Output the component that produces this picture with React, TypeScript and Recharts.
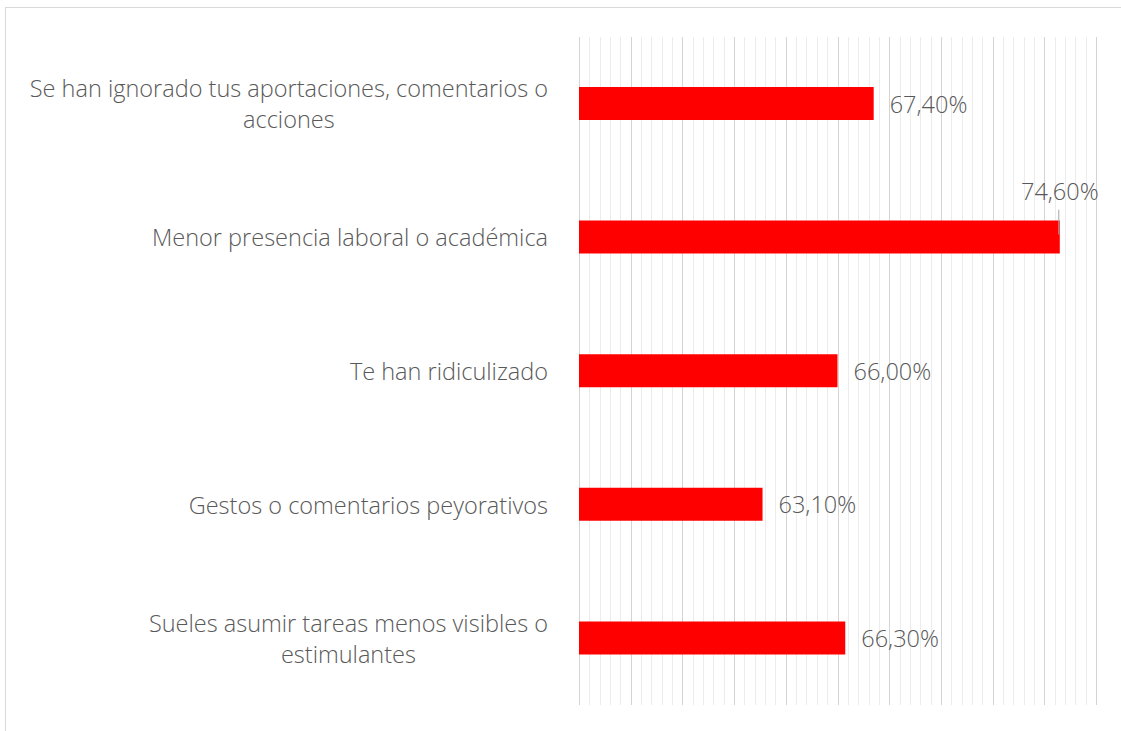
import { BarChart, Bar, XAxis, YAxis, CartesianGrid, LabelList } from 'recharts';

const categories = [
  'Se han ignorado tus aportaciones, comentarios o\nacciones',
  'Menor presencia laboral o académica',
  'Te han ridiculizado',
  'Gestos o comentarios peyorativos',
  'Sueles asumir tareas menos visibles o\nestimulantes',
];
const values = [67.4, 74.6, 66.0, 63.1, 66.3];
const majorTicks = [56, 58, 60, 62, 64, 66, 68, 70, 72, 74, 76];
const domain = [56, 76];

// 5 minor divisions between each major gridline
const minorTicks: number[] = [];
majorTicks.slice(0, -1).forEach((t, i) => {
  const step = (majorTicks[i + 1] - t) / 5;
  for (let k = 1; k < 5; k++) minorTicks.push(+(t + k * step).toFixed(2));
});

const data = categories.map((c, i) => ({ name: c, value: values[i] }));

const FONT = '"Open Sans", "Noto Sans", sans-serif';
const TEXT = '#595959';
const FS = 23.5;

let ctx: CanvasRenderingContext2D | null = null;
function measure(s: string) {
  if (!ctx) ctx = document.createElement('canvas').getContext('2d');
  if (!ctx) return s.length * FS * 0.5;
  ctx.font = `300 ${FS}px ${FONT}`;
  return ctx.measureText(s).width;
}

const CatTick = (props: any) => {
  const { x, y, payload } = props;
  const lines = String(payload.value).split('\n');
  const maxW = Math.max(...lines.map(measure));
  const lh = 31;
  const y0 = y - ((lines.length - 1) * lh) / 2;
  return (
    <text x={x - maxW / 2} y={y0} textAnchor="middle" fill={TEXT}
      fontSize={FS} fontFamily={FONT} fontWeight={300} dominantBaseline="central">
      {lines.map((l, i) => (
        <tspan key={i} x={x - maxW / 2} y={y0 + i * lh}>{l}</tspan>
      ))}
    </text>
  );
};

const fmt = (v: number) => v.toFixed(2).replace('.', ',') + '%';

const ValueLabel = (props: any) => {
  const { x, y, width, height, value } = props;
  const end = x + width;
  const txt = fmt(value);
  // labels that would run past the plot get lifted above the bar with a leader line
  if (end + 16 + measure(txt) > 1100) {
    return (
      <g>
        <line x1={end - 1} y1={y - 11} x2={end - 1} y2={y + 14} stroke="#a6a6a6" strokeWidth={1} />
        <text x={end} y={y - 30} textAnchor="middle" fill={TEXT} fontSize={FS}
          fontFamily={FONT} fontWeight={300} dominantBaseline="central">{txt}</text>
      </g>
    );
  }
  return (
    <text x={end + 16} y={y + height / 2} textAnchor="start" fill={TEXT} fontSize={FS}
      fontFamily={FONT} fontWeight={300} dominantBaseline="central">{txt}</text>
  );
};

// snap gridlines to whole pixels so the thin minor lines stay crisp
const gridFrom = (vals: number[]) => (args: any) => {
  const sc = args?.xAxis?.scale;
  const off = args?.offset;
  const toPx = (v: number): number => {
    if (typeof sc === 'function') return sc(v);
    if (sc && typeof sc.map === 'function') return sc.map(v);
    return off.left + ((v - domain[0]) / (domain[1] - domain[0])) * off.width;
  };
  return vals.map((v) => Math.round(toPx(v)) + 0.5);
};

export default function App() {
  return (
    <div style={{ position: 'absolute', left: 5, top: 7, width: 1130, height: 740,
      borderTop: '1px solid #d9d9d9', borderLeft: '1px solid #d9d9d9', background: 'white' }}>
      <BarChart width={1115} height={723} data={data} layout="vertical"
        margin={{ top: 29, right: 25, bottom: 26, left: 0 }} barSize={33}>
        <CartesianGrid horizontal={false} verticalCoordinatesGenerator={gridFrom(minorTicks)}
          stroke="#ececec" strokeWidth={1} />
        <CartesianGrid horizontal={false} verticalCoordinatesGenerator={gridFrom(majorTicks)}
          stroke="#d4d4d4" strokeWidth={1} />
        <XAxis type="number" domain={domain} ticks={majorTicks} hide allowDataOverflow />
        <YAxis type="category" dataKey="name" width={573} axisLine={false} tickLine={false}
          tickSize={0} tickMargin={31} tick={<CatTick />} interval={0} />
        <Bar dataKey="value" fill="#ff0000" isAnimationActive={false}>
          <LabelList dataKey="value" content={<ValueLabel />} />
        </Bar>
      </BarChart>
    </div>
  );
}
